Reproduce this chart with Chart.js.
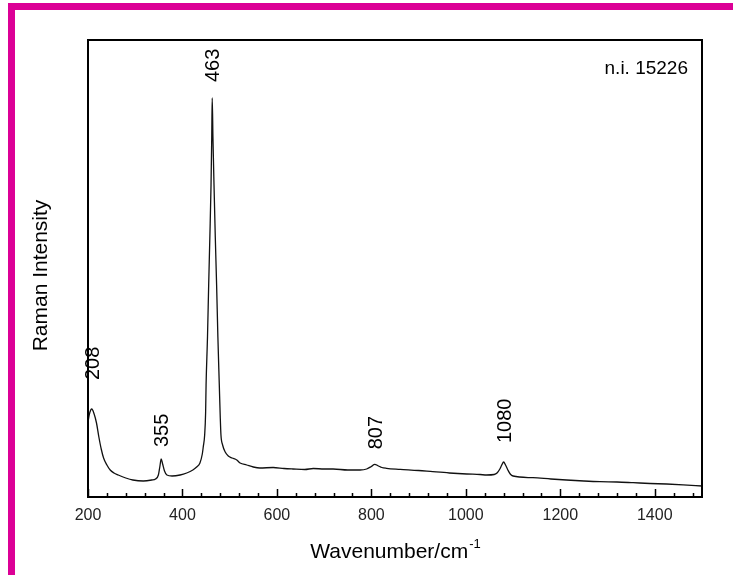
<!DOCTYPE html>
<html>
<head>
<meta charset="utf-8">
<title>Raman spectrum n.i. 15226</title>
<script src="https://cdn.jsdelivr.net/npm/chart.js@4.4.1/dist/chart.umd.min.js"></script>
<style>
  html, body { margin: 0; padding: 0; background: #ffffff; }
  #wrap { position: relative; width: 733px; height: 575px; overflow: hidden; }
  .bar { position: absolute; background: #dc0096; }
  #barTop { left: 8px; top: 3px; width: 725px; height: 7px; }
  #barLeft { left: 8px; top: 3px; width: 7px; height: 572px; }
  canvas { position: absolute; left: 0; top: 0; }
</style>
</head>
<body>
<div id="wrap">
  <div class="bar" id="barTop"></div>
  <div class="bar" id="barLeft"></div>
  <canvas id="chart" width="733" height="575"></canvas>
</div>
<script>
// Raman spectrum: wavenumber (cm-1) and intensity (arbitrary units)
const wavenumbers = [
  200, 203, 208, 213, 218, 223, 228, 233, 240, 247, 255, 264, 280, 295, 317, 335,
  343, 349, 352, 355, 358, 362, 367, 378, 395, 409, 422, 430, 437, 442, 444, 447,
  449, 450, 453, 455.5, 458, 460.5, 462, 463, 464.5, 466.8, 469.5, 472.3, 475, 478,
  480, 481.5, 485, 490.5, 497, 505, 515, 522, 536, 550, 564, 592, 615, 634, 659,
  677, 700, 719, 750, 776, 790, 800, 807, 815, 822, 832, 861, 900, 930, 965, 1002,
  1030, 1044, 1060, 1066, 1072, 1076, 1080, 1084, 1089, 1094, 1100, 1142, 1180,
  1213, 1250, 1284, 1320, 1354, 1390, 1425, 1460, 1500
];
const intensity = [
  75, 83, 88, 83, 74, 60, 48, 39, 32, 27, 24, 22, 19, 17, 16, 17,
  18, 22, 30, 38, 33, 26, 22, 21, 22, 24, 27, 30, 34, 43, 50, 62,
  84, 112, 160, 212, 260, 312, 360, 399, 360, 312, 260, 212, 160, 112,
  80, 62, 52, 45, 41, 39, 37, 34, 32, 30, 29, 29.5, 28.5, 28, 27.5,
  28.5, 28, 28, 27, 27, 28, 30.5, 32.7, 31, 29.5, 28.7, 27.7, 26.5, 25.3, 24, 23,
  22.5, 22, 22.5, 24, 28, 32, 35, 32, 27, 23, 21, 19.3, 18,
  17, 16, 15.3, 15, 14.3, 13.5, 13, 12.2, 11
];

// Labelled band positions
const peakPositions = [208, 355, 463, 807, 1080];
const peakLabels = ['208', '355', '463', '807', '1080'];

// Axis settings
const xMin = 200, xMax = 1500, xMajorStep = 200, xMinorStep = 40;
const yMin = 0, yMax = 457;

const sampleName = 'n.i. 15226';
const xTitle = 'Wavenumber/cm';
const xTitleSup = '-1';
const yTitle = 'Raman Intensity';

const FONT = '"Liberation Sans", Arial, Helvetica, sans-serif';
// gap (px) between each band top and its label
const labelGaps = [29, 12, 16, 15, 19];

const points = wavenumbers.map((w, i) => ({ x: w, y: intensity[i] }));

const decorations = {
  id: 'decorations',
  afterDatasetsDraw(chart) {
    const { ctx, chartArea: a, scales } = chart;
    const xs = scales.x, ys = scales.y;
    ctx.save();

    // frame
    ctx.strokeStyle = '#000';
    ctx.lineWidth = 2;
    ctx.strokeRect(a.left, a.top, a.right - a.left, a.bottom - a.top);

    // inward tick marks on the bottom axis
    ctx.lineWidth = 1.5;
    ctx.beginPath();
    for (let v = xMin; v <= xMax; v += xMinorStep) {
      const px = Math.round(xs.getPixelForValue(v)) + 0.5;
      const len = (v % xMajorStep === 0) ? 8 : 4;
      ctx.moveTo(px, a.bottom);
      ctx.lineTo(px, a.bottom - len);
    }
    ctx.stroke();

    // band labels, rotated
    ctx.fillStyle = '#000';
    const lf = 20;
    ctx.font = lf + 'px ' + FONT;
    ctx.textAlign = 'left';
    ctx.textBaseline = 'alphabetic';
    peakPositions.forEach((p, i) => {
      const idx = wavenumbers.indexOf(p);
      const px = xs.getPixelForValue(p);
      const py = ys.getPixelForValue(intensity[idx]);
      ctx.save();
      ctx.translate(px + lf * 0.358, py - labelGaps[i]);
      ctx.rotate(-Math.PI / 2);
      ctx.fillText(peakLabels[i], 0, 0);
      ctx.restore();
    });

    // sample name
    ctx.font = '19px ' + FONT;
    ctx.textAlign = 'right';
    ctx.fillText(sampleName, 688, 74);

    // x axis title with superscript
    ctx.textAlign = 'left';
    ctx.font = '21px ' + FONT;
    const w1 = ctx.measureText(xTitle).width;
    ctx.font = '13px ' + FONT;
    const w2 = ctx.measureText(xTitleSup).width;
    const cx = (a.left + a.right) / 2;
    const x0 = cx - (w1 + w2) / 2;
    ctx.font = '21px ' + FONT;
    ctx.fillText(xTitle, x0, 558);
    ctx.font = '13px ' + FONT;
    ctx.fillText(xTitleSup, x0 + w1 + 1, 548);

    // y axis title
    ctx.save();
    ctx.font = '21px ' + FONT;
    ctx.textAlign = 'center';
    ctx.translate(47, (a.top + a.bottom) / 2 + 7);
    ctx.rotate(-Math.PI / 2);
    ctx.fillText(yTitle, 0, 0);
    ctx.restore();

    ctx.restore();
  }
};

new Chart(document.getElementById('chart'), {
  type: 'line',
  data: {
    datasets: [{
      data: points,
      borderColor: '#111',
      borderWidth: 1.3,
      pointRadius: 0,
      cubicInterpolationMode: 'monotone',
      fill: false
    }]
  },
  options: {
    responsive: false,
    animation: false,
    devicePixelRatio: 1,
    layout: { padding: { top: 40, right: 31, left: 88, bottom: 0 } },
    plugins: { legend: { display: false }, tooltip: { enabled: false } },
    scales: {
      x: {
        type: 'linear',
        min: xMin,
        max: xMax,
        grid: { display: false, drawTicks: false },
        border: { display: false },
        ticks: {
          stepSize: xMajorStep,
          includeBounds: false,
          padding: 9,
          maxRotation: 0,
          color: '#222',
          font: { family: FONT, size: 16 },
          callback: (v) => String(v)
        },
        afterFit(scale) { scale.height = 78; }
      },
      y: {
        display: false,
        min: yMin,
        max: yMax
      }
    }
  },
  plugins: [decorations]
});
</script>
</body>
</html>
